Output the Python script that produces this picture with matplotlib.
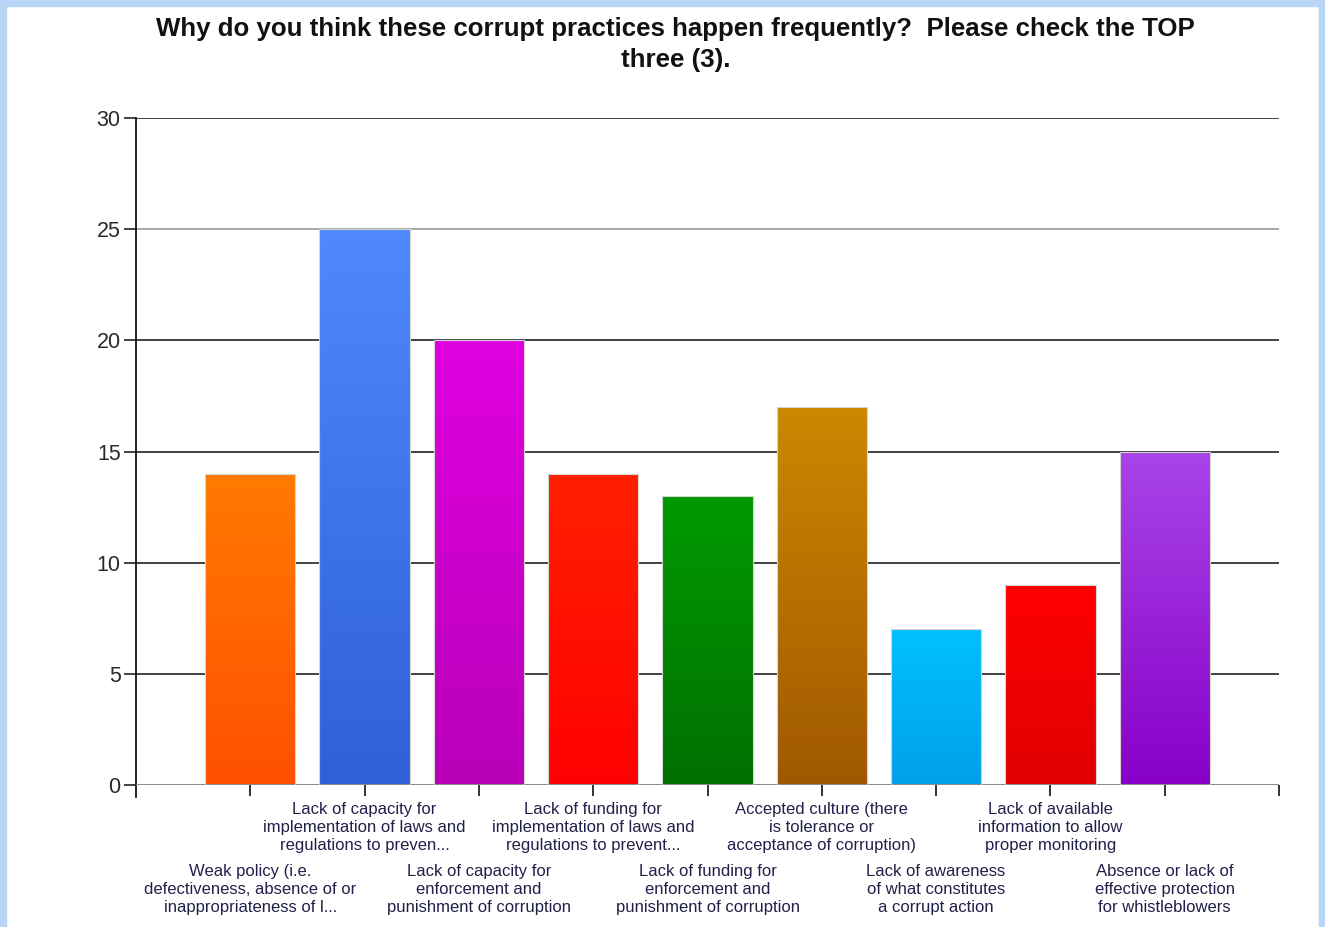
import matplotlib
matplotlib.use("Agg")
import matplotlib.pyplot as plt
import numpy as np
from matplotlib.colors import LinearSegmentedColormap
from matplotlib.patches import Rectangle

categories = [
    "Weak policy (i.e.\ndefectiveness, absence of or\ninappropriateness of l...",
    "Lack of capacity for\nimplementation of laws and\nregulations to preven...",
    "Lack of capacity for\nenforcement and\npunishment of corruption",
    "Lack of funding for\nimplementation of laws and\nregulations to prevent...",
    "Lack of funding for\nenforcement and\npunishment of corruption",
    "Accepted culture (there\nis tolerance or\nacceptance of corruption)",
    "Lack of awareness\nof what constitutes\na corrupt action",
    "Lack of available\ninformation to allow\nproper monitoring",
    "Absence or lack of\neffective protection\nfor whistleblowers",
]
values = [14, 25, 20, 14, 13, 17, 7, 9, 15]
top_colors = ["#FF7A00", "#4F88FF", "#E000E0", "#FF2000", "#009A00",
              "#CC8800", "#00C0FF", "#FF0000", "#A844E8"]
bottom_colors = ["#FF5000", "#2F60D8", "#B800B8", "#FF0000", "#007000",
                 "#A05800", "#00A0E8", "#E00000", "#8800C8"]
yticks = [0, 5, 10, 15, 20, 25, 30]
title1 = "Why do you think these corrupt practices happen frequently?  Please check the TOP"
title2 = "three (3)."

W, H = 1325, 927
fig = plt.figure(figsize=(W / 100, H / 100), dpi=100)
fig.patch.set_facecolor("white")

# light blue frame
border = "#B9D5F5"
fig.patches.append(Rectangle((0, 1 - 6 / H), 1, 6 / H, transform=fig.transFigure, color=border, zorder=0))
fig.patches.append(Rectangle((0, 0), 6 / W, 1, transform=fig.transFigure, color=border, zorder=0))
fig.patches.append(Rectangle((1 - 6 / W, 0), 6 / W, 1, transform=fig.transFigure, color=border, zorder=0))

ax = fig.add_axes([136 / W, 1 - 785 / H, (1279 - 136) / W, (785 - 118) / H])
ax.set_xlim(0, len(values) + 1)
ax.set_ylim(0, 30)
for s in ["top", "right", "bottom"]:
    ax.spines[s].set_visible(False)
ax.spines["left"].set_color("#111111")
ax.spines["left"].set_linewidth(1.3)
ax.spines["left"].set_bounds(-0.55, 30)

x = np.arange(1, len(values) + 1)
# gridlines
for yv in yticks[1:]:
    col = "#999999" if yv == 25 else "#222222"
    ax.plot([0, len(values) + 1], [yv, yv], color=col, lw=1.2, zorder=1, solid_capstyle="butt")
ax.plot([0, len(values) + 1], [0, 0], color="#8a8a8a", lw=1.4, zorder=3, solid_capstyle="butt")

bars = ax.bar(x, values, width=0.79, color="none", edgecolor="#D4D4D4", linewidth=0.8, zorder=4)
for b, tc, bc in zip(bars, top_colors, bottom_colors):
    cmap = LinearSegmentedColormap.from_list("g", [bc, tc])
    grad = np.linspace(0, 1, 256).reshape(-1, 1)
    x0, y0 = b.get_x(), b.get_y()
    im = ax.imshow(grad, cmap=cmap, origin="lower", aspect="auto",
                   extent=[x0, x0 + b.get_width(), y0, y0 + b.get_height()], zorder=2)
    im.set_clip_path(b)

ax.set_xlim(0, len(values) + 1)
ax.set_ylim(0, 30)

ax.set_yticks(yticks)
ax.set_yticklabels([str(v) for v in yticks], fontsize=15.5, color="#2a2a2a",
                   family="Liberation Sans")
ax.tick_params(axis="y", length=9, width=1.2, pad=2, color="#222222")
for t, yv in zip(ax.yaxis.get_major_ticks(), yticks):
    if yv in (25, 0):
        t.tick1line.set_color("#999999")

ax.set_xticks(list(range(1, len(values) + 2)))
ax.set_xticklabels([])
ax.tick_params(axis="x", length=8, width=1.3, color="#222222")

for i, lab in enumerate(categories):
    off = -17 if i % 2 == 1 else -79
    ax.annotate(lab, xy=(x[i], 0), xycoords=("data", "axes fraction"),
                xytext=(0, off), textcoords="offset pixels",
                ha="center", va="top", multialignment="center",
                fontsize=12, color="#20204a", family="Liberation Sans",
                linespacing=1.24, annotation_clip=False)

fig.text(675 / W, 1 - 29 / H, title1, ha="center", va="center", fontsize=18.6,
         fontweight="bold", family="Liberation Sans", color="#111111")
fig.text(676 / W, 1 - 60 / H, title2, ha="center", va="center", fontsize=18.6,
         fontweight="bold", family="Liberation Sans", color="#111111")

fig.savefig("out.png", dpi=100, facecolor="white")
